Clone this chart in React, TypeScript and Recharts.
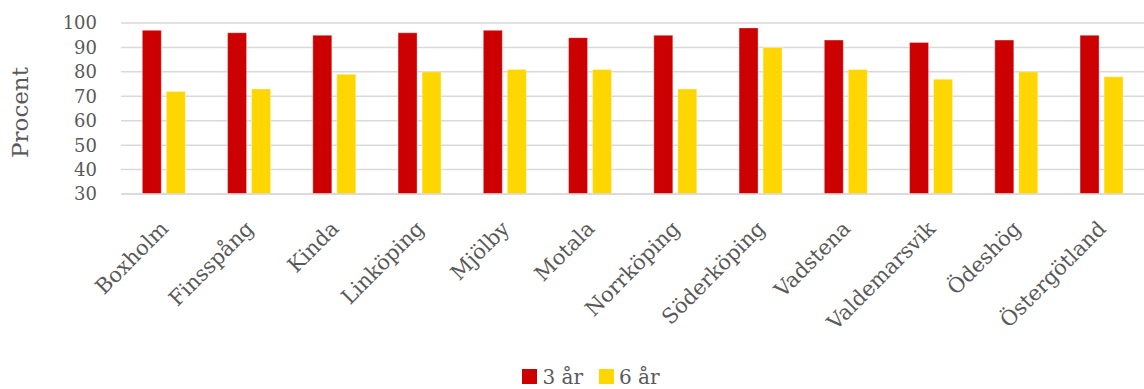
import { BarChart, Bar, XAxis, YAxis, CartesianGrid, Legend } from "recharts"

const kommuner = [
    "Boxholm", "Finsspång", "Kinda", "Linköping", "Mjölby", "Motala",
    "Norrköping", "Söderköping", "Vadstena", "Valdemarsvik", "Ödeshög", "Östergötland",
]
const tre = [97, 96, 95, 96, 97, 94, 95, 98, 93, 92, 93, 95]
const sex = [72, 73, 79, 80, 81, 81, 73, 90, 81, 77, 80, 78]
const yTicks = [30, 40, 50, 60, 70, 80, 90, 100]

const data = kommuner.map((k, i) => ({ name: k, tre: tre[i], sex: sex[i] }))

const FONT = "'DejaVu Serif', serif"
const GREY = "#595959"
const RED = "#CC0000"
const YELLOW = "#FFD600"

const XTick = ({ x, y, payload }: any) => (
    <text
        x={x + 6}
        y={y + 36}
        transform={`rotate(-45, ${x + 6}, ${y + 36})`}
        textAnchor="end"
        fontFamily={FONT}
        fontSize={21}
        fill={GREY}
    >
        {payload.value}
    </text>
)

const YLabel = ({ viewBox }: any) => {
    const cx = viewBox.x + 28
    const cy = viewBox.y + viewBox.height / 2 + 4
    return (
        <text x={cx} y={cy} transform={`rotate(-90, ${cx}, ${cy})`} textAnchor="middle" fontFamily={FONT} fontSize={23} fill={GREY}>
            Procent
        </text>
    )
}

const LegendBox = ({ payload }: any) => (
    <div style={{ display: "flex", justifyContent: "center", height: 22, paddingLeft: 54, fontFamily: FONT, fontSize: 20, lineHeight: "20px", color: GREY }}>
        {(payload || []).map((p: any) => (
            <div key={p.value} style={{ display: "flex", alignItems: "flex-start", marginRight: 16 }}>
                <span style={{ width: 15, height: 15, marginTop: 2, marginRight: 5, background: p.color, display: "inline-block" }} />
                <span style={{ whiteSpace: "nowrap" }}>{p.value}</span>
            </div>
        ))}
    </div>
)

export default function App() {
    return (
        <div style={{ position: "absolute", left: 0, top: 0, background: "#fff" }}>
            <BarChart width={1144} height={389} data={data} margin={{ top: 23, right: 0, bottom: 0, left: 0 }} barCategoryGap="25%" barGap={5}>
                <CartesianGrid vertical={false} stroke="#d9d9d9" strokeWidth={1.5} />
                <XAxis
                    dataKey="name"
                    interval={0}
                    height={173}
                    tickLine={false}
                    tickSize={0}
                    tickMargin={0}
                    axisLine={{ stroke: "#d9d9d9", strokeWidth: 1.5 }}
                    tick={<XTick />}
                />
                <YAxis
                    domain={[30, 100]}
                    ticks={yTicks}
                    interval={0}
                    width={121}
                    tickLine={false}
                    axisLine={false}
                    tickSize={0}
                    tickMargin={24}
                    tick={{ fontFamily: FONT, fontSize: 18, fill: GREY }}
                    label={<YLabel />}
                />
                <Legend verticalAlign="bottom" content={<LegendBox />} wrapperStyle={{ left: 0, width: 1144 }} />
                <Bar dataKey="tre" name="3 år" fill={RED} stroke="#ffffff" strokeOpacity={0.35} isAnimationActive={false} />
                <Bar dataKey="sex" name="6 år" fill={YELLOW} stroke="#ffffff" strokeOpacity={0.35} isAnimationActive={false} />
            </BarChart>
        </div>
    )
}
